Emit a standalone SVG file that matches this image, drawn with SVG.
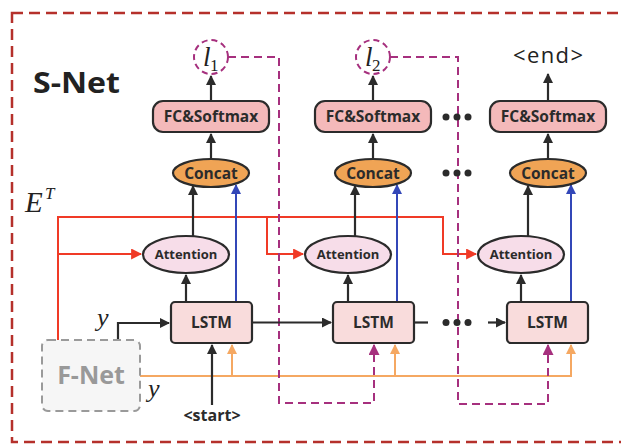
<svg xmlns="http://www.w3.org/2000/svg" width="621" height="447" viewBox="0 0 621 447">
<defs>
<style>
.lbl{font-family:"Open Sans","Noto Sans","DejaVu Sans",sans-serif;font-weight:bold;fill:#2b2b2b;text-anchor:middle}
.math{font-family:"Liberation Serif","DejaVu Serif",serif;font-style:italic;fill:#222}
.fc{fill:#f4b9ba;stroke:#2b2b2b;stroke-width:2.2}
.cc{fill:#f0a455;stroke:#2b2b2b;stroke-width:2.2}
.at{fill:#f7dde9;stroke:#2b2b2b;stroke-width:2.2}
.ls{fill:#f9dcdc;stroke:#2b2b2b;stroke-width:2.2}
.blk{stroke:#2b2b2b;stroke-width:2.2;fill:none}
.blu{stroke:#3347b8;stroke-width:2;fill:none}
.red{stroke:#f03a26;stroke-width:2;fill:none}
.org{stroke:#f5a862;stroke-width:2;fill:none}
.pur{stroke:#a6307e;stroke-width:2;fill:none;stroke-dasharray:8 5}
.dot{fill:#2b2b2b}
</style>
<marker id="ab" markerUnits="userSpaceOnUse" markerWidth="10" markerHeight="10" viewBox="0 0 10 10" refX="9" refY="5" orient="auto"><path d="M0,0 L10,5 L0,10 z" fill="#2b2b2b"/></marker>
<marker id="abl" markerUnits="userSpaceOnUse" markerWidth="10" markerHeight="10" viewBox="0 0 10 10" refX="9" refY="5" orient="auto"><path d="M0,0 L10,5 L0,10 z" fill="#3347b8"/></marker>
<marker id="ar" markerUnits="userSpaceOnUse" markerWidth="11" markerHeight="11" viewBox="0 0 10 10" refX="9" refY="5" orient="auto"><path d="M0,0 L10,5 L0,10 z" fill="#f03a26"/></marker>
<marker id="ao" markerUnits="userSpaceOnUse" markerWidth="10" markerHeight="10" viewBox="0 0 10 10" refX="9" refY="5" orient="auto"><path d="M0,0 L10,5 L0,10 z" fill="#f5a862"/></marker>
<marker id="ap" markerUnits="userSpaceOnUse" markerWidth="11" markerHeight="11" viewBox="0 0 10 10" refX="9" refY="5" orient="auto"><path d="M0,0 L10,5 L0,10 z" fill="#a6307e"/></marker>
</defs>
<rect width="621" height="447" fill="#ffffff"/>
<rect id="snet-frame" x="12" y="13" width="630" height="429" fill="none" stroke="#b5302b" stroke-width="2.5" stroke-dasharray="11 6"/>
<text x="33" y="93" class="lbl" style="text-anchor:start;font-size:29px;fill:#222" textLength="87" lengthAdjust="spacingAndGlyphs">S-Net</text>
<g id="ET"><text x="25" y="212" class="math" font-size="29">E</text><text x="45" y="199" class="math" font-size="17">T</text></g>
<g id="y-top"><text x="97" y="326" class="math" font-size="26">y</text></g>
<g id="y-bottom"><text x="148" y="397" class="math" font-size="26">y</text></g>

<g id="connectors">
<path class="red" d="M58,340 V217 H443 V254 H476" marker-end="url(#ar)"/>
<path class="red" d="M58,254 H141" marker-end="url(#ar)"/>
<path class="red" d="M267,217 V254 H303" marker-end="url(#ar)"/>
<path class="org" d="M140,376 H571 V345" marker-end="url(#ao)"/>
<path class="org" d="M232,376 V345" marker-end="url(#ao)"/>
<path class="org" d="M395,376 V345" marker-end="url(#ao)"/>
<path class="pur" d="M228,57 H279 V403 H374 V345" marker-end="url(#ap)"/>
<path class="pur" d="M390,57 H458 V404 H548 V345" marker-end="url(#ap)"/>
<path class="blk" d="M118,340 V323 H169" marker-end="url(#ab)"/>
<path class="blk" d="M212,405 V345" marker-end="url(#ab)"/>
<path class="blk" d="M252,322.5 H331" marker-end="url(#ab)"/>
<path class="blk" d="M414,322.5 H428"/>
<path class="blk" d="M488,322.5 H505" marker-end="url(#ab)"/>
<path class="blk" d="M211,101 V76" marker-end="url(#ab)"/>
<path class="blk" d="M373,101 V76" marker-end="url(#ab)"/>
<path class="blk" d="M548,101 V74" marker-end="url(#ab)"/>
<path class="blk" d="M211,159 V134" marker-end="url(#ab)"/>
<path class="blk" d="M373,159 V134" marker-end="url(#ab)"/>
<path class="blk" d="M548,159 V134" marker-end="url(#ab)"/>
<path class="blk" d="M193,237 V186" marker-end="url(#ab)"/>
<path class="blk" d="M355,237 V186" marker-end="url(#ab)"/>
<path class="blk" d="M528,237 V186" marker-end="url(#ab)"/>
<path class="blk" d="M186,302 V275" marker-end="url(#ab)"/>
<path class="blk" d="M348,302 V275" marker-end="url(#ab)"/>
<path class="blk" d="M521,302 V275" marker-end="url(#ab)"/>
<path class="blu" d="M236,302 V185" marker-end="url(#abl)"/>
<path class="blu" d="M397,302 V185" marker-end="url(#abl)"/>
<path class="blu" d="M571,302 V185" marker-end="url(#abl)"/>
<circle class="dot" cx="446" cy="117" r="3.5"/><circle class="dot" cx="457" cy="117" r="3.5"/><circle class="dot" cx="468" cy="117" r="3.5"/>
<circle class="dot" cx="446" cy="173" r="3.5"/><circle class="dot" cx="457" cy="173" r="3.5"/><circle class="dot" cx="468" cy="173" r="3.5"/>
<circle class="dot" cx="446" cy="322.5" r="3.5"/><circle class="dot" cx="457" cy="322.5" r="3.5"/><circle class="dot" cx="468" cy="322.5" r="3.5"/>
</g>

<g id="l1"><circle cx="211" cy="57" r="17" fill="#fff" stroke="#a6307e" stroke-width="2" stroke-dasharray="6 4"/><text x="203" y="66" class="math" font-size="27">l</text><text x="210" y="71" class="math" font-size="17" style="font-style:normal">1</text></g>
<g id="l2"><circle cx="373" cy="57" r="17" fill="#fff" stroke="#a6307e" stroke-width="2" stroke-dasharray="6 4"/><text x="365" y="66" class="math" font-size="27">l</text><text x="372" y="71" class="math" font-size="17" style="font-style:normal">2</text></g>
<g id="end"><text x="548" y="63" class="lbl" style="font-weight:normal;font-size:22px;fill:#222" textLength="70" lengthAdjust="spacing">&lt;end&gt;</text></g>

<g id="fc1"><rect class="fc" x="153" y="101" width="116" height="31" rx="10"/><text x="211" y="122" class="lbl" font-size="15.5">FC&amp;Softmax</text></g>
<g id="fc2"><rect class="fc" x="315" y="101" width="116" height="31" rx="10"/><text x="373" y="122" class="lbl" font-size="15.5">FC&amp;Softmax</text></g>
<g id="fc3"><rect class="fc" x="490" y="101" width="116" height="31" rx="10"/><text x="548" y="122" class="lbl" font-size="15.5">FC&amp;Softmax</text></g>

<g id="concat1"><ellipse class="cc" cx="211" cy="173" rx="38" ry="14"/><text x="211" y="178.5" class="lbl" font-size="15.5">Concat</text></g>
<g id="concat2"><ellipse class="cc" cx="373" cy="173" rx="38" ry="14"/><text x="373" y="178.5" class="lbl" font-size="15.5">Concat</text></g>
<g id="concat3"><ellipse class="cc" cx="548" cy="173" rx="38" ry="14"/><text x="548" y="178.5" class="lbl" font-size="15.5">Concat</text></g>

<g id="att1"><ellipse class="at" cx="186" cy="254.5" rx="43" ry="18.5"/><text x="186" y="259" class="lbl" font-size="13">Attention</text></g>
<g id="att2"><ellipse class="at" cx="348" cy="254.5" rx="43" ry="18.5"/><text x="348" y="259" class="lbl" font-size="13">Attention</text></g>
<g id="att3"><ellipse class="at" cx="521" cy="254.5" rx="43" ry="18.5"/><text x="521" y="259" class="lbl" font-size="13">Attention</text></g>

<g id="lstm1"><rect class="ls" x="171" y="302" width="81" height="41" rx="4"/><text x="211.5" y="328" class="lbl" font-size="15.5">LSTM</text></g>
<g id="lstm2"><rect class="ls" x="333" y="302" width="81" height="41" rx="4"/><text x="373.5" y="328" class="lbl" font-size="15.5">LSTM</text></g>
<g id="lstm3"><rect class="ls" x="507" y="302" width="81" height="41" rx="4"/><text x="547.5" y="328" class="lbl" font-size="15.5">LSTM</text></g>

<g id="fnet"><rect x="42" y="340" width="98" height="71" rx="6" fill="#f6f6f6" stroke="#9a9a9a" stroke-width="2" stroke-dasharray="8 5"/><text x="91" y="384" class="lbl" style="font-size:25px;fill:#999">F-Net</text></g>
<g id="start"><text x="212" y="421" class="lbl" font-size="16">&lt;start&gt;</text></g>
</svg>
